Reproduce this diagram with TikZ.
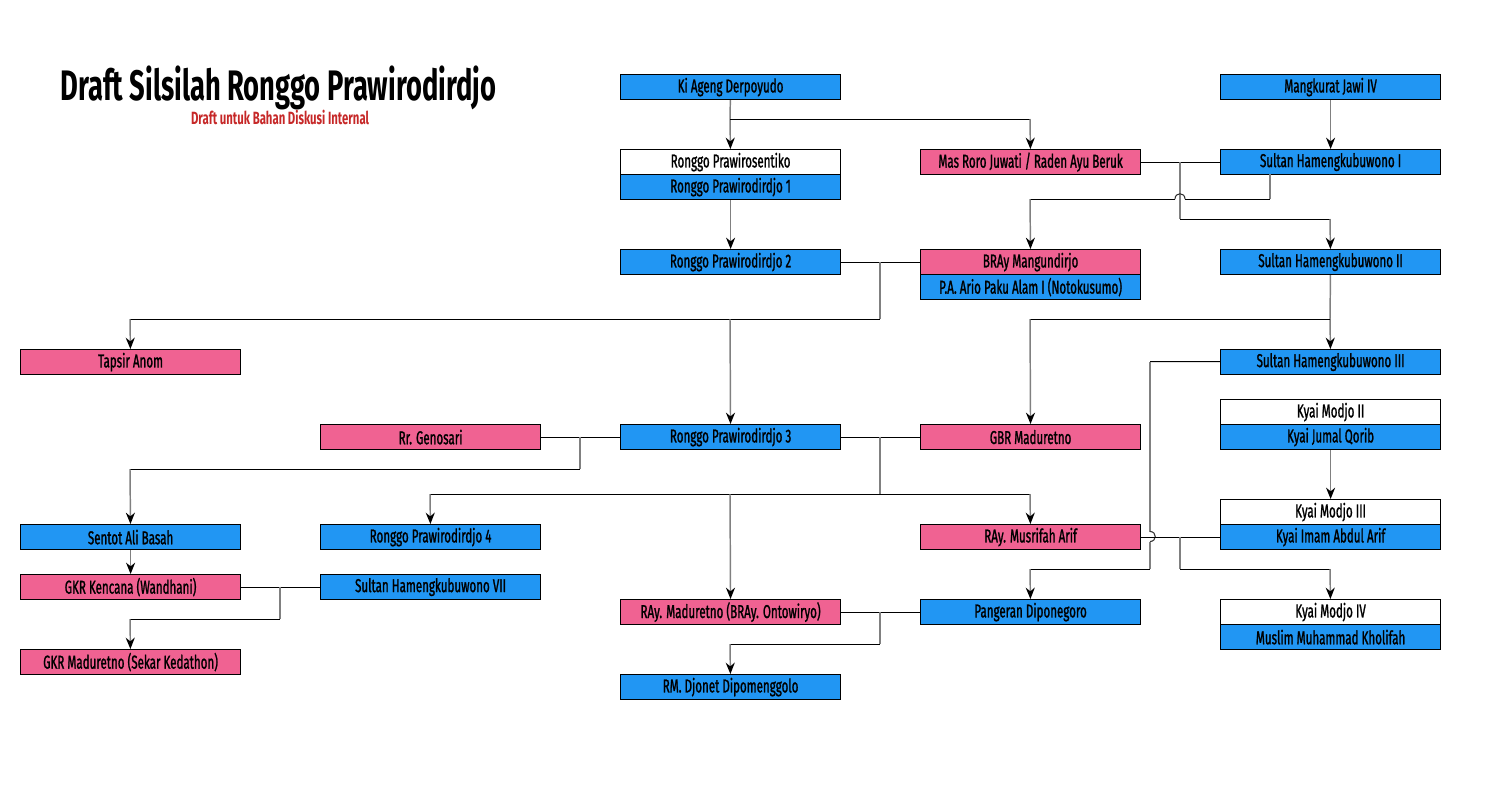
\documentclass[tikz,border=0pt]{standalone}
\usepackage{fontspec}
\setmainfont[FakeStretch=0.62,FakeBold=1.2]{Fira Sans}
\newfontfamily\titlefont[FakeStretch=0.64]{Fira Sans}
\newfontfamily\subfont[FakeStretch=0.64]{Fira Sans}
\usetikzlibrary{arrows.meta}
\definecolor{pblue}{HTML}{2196F3}
\definecolor{ppink}{HTML}{F06292}
\definecolor{subred}{HTML}{C62828}
\definecolor{lgray}{HTML}{808080}
\tikzset{
  person/.style={draw=black,line width=0.9pt,minimum width=165pt,minimum height=18.75pt,inner sep=0pt,anchor=north west,font=\fontsize{14}{16}\selectfont,text=black},
  bluebox/.style={person,fill=pblue},
  pinkbox/.style={person,fill=ppink},
  whitebox/.style={person,fill=white},
  hline/.style={draw=black,line width=0.75pt},
  vline/.style={draw=lgray,line width=1.1pt},
  varrow/.style={vline,-{Stealth[black,length=8.5pt,width=6.8pt]}},
  hop/.style={draw=black!80,line width=0.8pt}
}
\begin{document}
\begin{tikzpicture}[x=0.75pt,y=-0.75pt]
\useasboundingbox (0,0) rectangle (1500,800);
% title
\node[anchor=base west,inner sep=0pt,font=\titlefont\bfseries\fontsize{32}{34}\selectfont] (title) at (60,100) {Draft Silsilah Ronggo Prawirodirdjo};
\node[anchor=base,inner sep=0pt,text=subred,font=\subfont\bfseries\fontsize{13.3}{15}\selectfont] (subtitle) at (280,124) {Draft untuk Bahan Diskusi Internal};
% nodes
\node[bluebox] (kiageng) at (620,74) {Ki Ageng Derpoyudo};
\node[bluebox] (mangkurat) at (1220,74) {Mangkurat Jawi IV};
\node[whitebox] (rpsent) at (620,149) {Ronggo Prawirosentiko};
\node[bluebox] (rp1) at (620,174) {Ronggo Prawirodirdjo 1};
\node[pinkbox] (masroro) at (920,149) {Mas Roro Juwati / Raden Ayu Beruk};
\node[bluebox] (hb1) at (1220,149) {Sultan Hamengkubuwono I};
\node[bluebox] (rp2) at (620,249) {Ronggo Prawirodirdjo 2};
\node[pinkbox] (bray) at (920,249) {BRAy Mangundirjo};
\node[bluebox] (paku) at (920,274) {P.A. Ario Paku Alam I (Notokusumo)};
\node[bluebox] (hb2) at (1220,249) {Sultan Hamengkubuwono II};
\node[pinkbox] (tapsir) at (20,349) {Tapsir Anom};
\node[bluebox] (hb3) at (1220,349) {Sultan Hamengkubuwono III};
\node[whitebox] (modjo2) at (1220,399) {Kyai Modjo II};
\node[bluebox] (jumal) at (1220,424) {Kyai Jumal Qorib};
\node[pinkbox] (geno) at (320,424) {Rr. Genosari};
\node[bluebox] (rp3) at (620,424) {Ronggo Prawirodirdjo 3};
\node[pinkbox] (gbr) at (920,424) {GBR Maduretno};
\node[whitebox] (modjo3) at (1220,499) {Kyai Modjo III};
\node[bluebox] (imam) at (1220,524) {Kyai Imam Abdul Arif};
\node[bluebox] (sentot) at (20,524) {Sentot Ali Basah};
\node[bluebox] (rp4) at (320,524) {Ronggo Prawirodirdjo 4};
\node[pinkbox] (musrifah) at (920,524) {RAy. Musrifah Arif};
\node[pinkbox] (kencana) at (20,574) {GKR Kencana (Wandhani)};
\node[bluebox] (hb7) at (320,574) {Sultan Hamengkubuwono VII};
\node[pinkbox] (raymadu) at (620,599) {RAy. Maduretno (BRAy. Ontowiryo)};
\node[bluebox] (dipo) at (920,599) {Pangeran Diponegoro};
\node[whitebox] (modjo4) at (1220,599) {Kyai Modjo IV};
\node[bluebox] (muslim) at (1220,624) {Muslim Muhammad Kholifah};
\node[pinkbox] (gkrmadu) at (20,649) {GKR Maduretno (Sekar Kedathon)};
\node[bluebox] (djonet) at (620,674) {RM. Djonet Dipomenggolo};
% junction coordinates
\coordinate (a1) at (730,119);
\coordinate (a2) at (1030,119);
\coordinate (b1) at (1180,161.5);
\coordinate (b2) at (1180,219);
\coordinate (b3) at (1330,219);
\coordinate (c1) at (1270,174);
\coordinate (c2) at (1270,199);
\coordinate (c3) at (1185,199);
\coordinate (c4) at (1175,199);
\coordinate (c5) at (1030,199);
\coordinate (d1) at (880,261.5);
\coordinate (d2) at (880,319);
\coordinate (d3) at (730,319);
\coordinate (d4) at (130,319);
\coordinate (e1) at (1330,319);
\coordinate (e2) at (1030,319);
\coordinate (f1) at (580,436.5);
\coordinate (f2) at (580,469);
\coordinate (f3) at (130,469);
\coordinate (g1) at (880,436.5);
\coordinate (g2) at (880,494);
\coordinate (g3) at (430,494);
\coordinate (g4) at (730,494);
\coordinate (g5) at (1030,494);
\coordinate (h1) at (1150,361.5);
\coordinate (h2) at (1150,531.5);
\coordinate (h3) at (1150,541.5);
\coordinate (h4) at (1150,569);
\coordinate (h5) at (1030,569);
\coordinate (i1) at (1180,536.5);
\coordinate (i2) at (1180,569);
\coordinate (i3) at (1330,569);
\coordinate (k1) at (280,586.5);
\coordinate (k2) at (280,619);
\coordinate (k3) at (130,619);
\coordinate (l1) at (880,611.5);
\coordinate (l2) at (880,644);
\coordinate (l3) at (730,644);
% Ki Ageng Derpoyudo children
\draw[vline] (kiageng) -- (a1);
\draw[varrow] (a1) -- (rpsent);
\draw[hline] (a1) -- (a2);
\draw[varrow] (a2) -- (masroro);
% Mangkurat -> HB I
\draw[varrow] (mangkurat) -- (hb1);
% Mas Roro + HB I -> HB II
\draw[hline] (masroro) -- (hb1);
\draw[vline] (b1) -- (b2);
\draw[hline] (b2) -- (b3);
\draw[varrow] (b3) -- (hb2);
% HB I -> BRAy Mangundirjo (with hop)
\draw[vline] (c1) -- (c2);
\draw[hline] (c2) -- (c3);
\draw[hop] (c3) .. controls (1185,192) and (1175,192) .. (c4);
\draw[hline] (c4) -- (c5);
\draw[varrow] (c5) -- (bray);
% RP1 -> RP2
\draw[varrow] (rp1) -- (rp2);
% RP2 + BRAy -> Tapsir, RP3
\draw[hline] (rp2) -- (bray);
\draw[vline] (d1) -- (d2);
\draw[hline] (d2) -- (d4);
\draw[varrow] (d4) -- (tapsir);
\draw[varrow] (d3) -- (rp3);
% HB II -> HB III, GBR
\draw[vline] (hb2) -- (e1);
\draw[varrow] (e1) -- (hb3);
\draw[hline] (e1) -- (e2);
\draw[varrow] (e2) -- (gbr);
% Genosari + RP3 -> Sentot
\draw[hline] (geno) -- (rp3);
\draw[vline] (f1) -- (f2);
\draw[hline] (f2) -- (f3);
\draw[varrow] (f3) -- (sentot);
% RP3 + GBR -> RP4, RAy Maduretno, Musrifah
\draw[hline] (rp3) -- (gbr);
\draw[vline] (g1) -- (g2);
\draw[hline] (g3) -- (g5);
\draw[varrow] (g3) -- (rp4);
\draw[varrow] (g4) -- (raymadu);
\draw[varrow] (g5) -- (musrifah);
% HB III -> Diponegoro (with hop)
\draw[hline] (hb3) -- (h1);
\draw[vline] (h1) -- (h2);
\draw[hop] (h2) .. controls (1157,531.5) and (1157,541.5) .. (h3);
\draw[vline] (h3) -- (h4);
\draw[hline] (h4) -- (h5);
\draw[varrow] (h5) -- (dipo);
% Musrifah + Imam -> Modjo IV
\draw[hline] (musrifah) -- (imam);
\draw[vline] (i1) -- (i2);
\draw[hline] (i2) -- (i3);
\draw[varrow] (i3) -- (modjo4);
% Jumal -> Modjo III
\draw[varrow] (jumal) -- (modjo3);
% Sentot -> Kencana
\draw[varrow] (sentot) -- (kencana);
% Kencana + HB VII -> GKR Maduretno
\draw[hline] (kencana) -- (hb7);
\draw[vline] (k1) -- (k2);
\draw[hline] (k2) -- (k3);
\draw[varrow] (k3) -- (gkrmadu);
% RAy Maduretno + Diponegoro -> Djonet
\draw[hline] (raymadu) -- (dipo);
\draw[vline] (l1) -- (l2);
\draw[hline] (l2) -- (l3);
\draw[varrow] (l3) -- (djonet);
\end{tikzpicture}
\end{document}
